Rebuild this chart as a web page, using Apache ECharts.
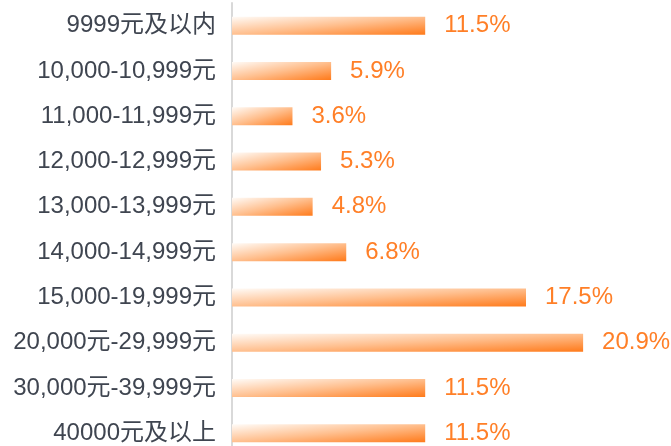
<!DOCTYPE html>
<html>
<head>
<meta charset="utf-8">
<script src="https://cdn.jsdelivr.net/npm/echarts@6/dist/echarts.min.js"></script>
<style>
html,body{margin:0;padding:0;background:#fff;}
#chart{width:671px;height:446px;}
</style>
</head>
<body>
<div id="chart"></div>
<script>
var categories = ['9999元及以内','10,000-10,999元','11,000-11,999元','12,000-12,999元','13,000-13,999元','14,000-14,999元','15,000-19,999元','20,000元-29,999元','30,000元-39,999元','40000元及以上'];
var values = [11.5, 5.9, 3.6, 5.3, 4.8, 6.8, 17.5, 20.9, 11.5, 11.5];

var FONT = "'Liberation Sans', Arial, 'Noto Sans CJK SC', sans-serif";
var BAR_H = 18;
var chart = echarts.init(document.getElementById('chart'), null, {renderer: 'canvas'});

function buildOption(data) {
  return {
    animation: false,
    backgroundColor: '#ffffff',
    grid: {left: 232, top: 3, width: 420, height: 453, containLabel: false, outerBoundsMode: 'none'},
    xAxis: {type: 'value', min: 0, max: 25, show: false, splitLine: {show: false}},
    yAxis: {
      type: 'category', data: categories, inverse: true,
      axisLine: {show: true, lineStyle: {color: '#d9d9d9', width: 2}},
      axisTick: {show: false},
      splitLine: {show: false},
      axisLabel: {fontSize: 24, color: '#3f4550', margin: 16, fontFamily: FONT}
    },
    series: [{
      type: 'bar',
      data: data,
      barWidth: BAR_H,
      itemStyle: {color: '#ff9a50'},
      label: {
        show: true, position: 'right', distance: 19,
        fontSize: 24, color: '#ff7f27', fontFamily: FONT,
        formatter: function (p) { return p.value.toFixed(1) + '%'; }
      }
    }]
  };
}

chart.setOption(buildOption(values));

// Gradient scaled to each bar's box (light top-left -> deep orange bottom-right)
var pxPerUnit = chart.convertToPixel({xAxisIndex: 0}, 1) - chart.convertToPixel({xAxisIndex: 0}, 0);
var styled = values.map(function (v) {
  var w = v * pxPerUnit, h = BAR_H;
  var d = h * h + w * w;
  return {
    value: v,
    itemStyle: {
      color: new echarts.graphic.LinearGradient(0, 0, 2 * h * h / d, 2 * w * w / d, [
        {offset: 0, color: '#fffbf7'},
        {offset: 0.5, color: '#ffbf8e'},
        {offset: 1, color: '#ff7a1a'}
      ])
    }
  };
});
chart.setOption({series: [{data: styled}]});
</script>
</body>
</html>
